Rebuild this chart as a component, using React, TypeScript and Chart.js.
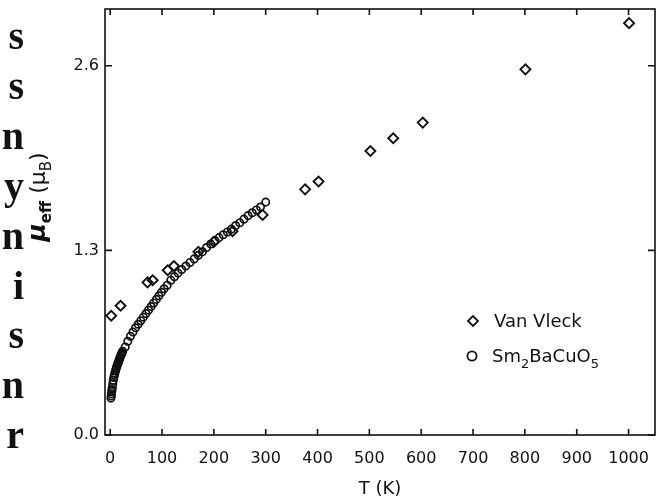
import React, { useEffect, useRef } from 'react';
import { Chart, registerables } from 'chart.js';

Chart.register(...registerables);

// ---- data ----
const vanVleckT = [2, 20, 72, 82, 111, 123, 170, 200, 236, 294, 376, 402, 502, 546, 603, 801, 1001];
const vanVleckMu = [0.84, 0.91, 1.075, 1.09, 1.16, 1.19, 1.29, 1.36, 1.435, 1.55, 1.73, 1.785, 2.0, 2.09, 2.2, 2.575, 2.9];

const smT = [
  1.5, 2, 2.5, 3, 3.5, 4, 5, 6, 7, 8, 9, 10, 11, 12, 13, 14, 15, 16, 17, 18, 19, 20, 21, 22, 23, 24,
  29, 34, 39, 44, 49, 54, 59, 64, 69, 74, 79, 84, 89, 94, 99, 104, 110,
  117, 124, 131, 138, 146, 154, 162, 170, 178, 186, 194, 202, 210, 218, 226, 234, 242, 250, 258, 266,
  274, 282, 290, 300,
];
const smMu = [
  0.26, 0.275, 0.29, 0.305, 0.32, 0.335, 0.36, 0.385, 0.405, 0.42, 0.435, 0.45, 0.46, 0.475, 0.485,
  0.495, 0.505, 0.515, 0.525, 0.535, 0.545, 0.555, 0.565, 0.57, 0.58, 0.59,
  0.62, 0.66, 0.695, 0.725, 0.755, 0.78, 0.805, 0.83, 0.855, 0.88, 0.905, 0.93, 0.955, 0.98, 1.005,
  1.03, 1.055,
  1.09, 1.115, 1.14, 1.165, 1.19, 1.215, 1.24, 1.265, 1.29, 1.32, 1.345, 1.37, 1.39, 1.41, 1.43, 1.45,
  1.475, 1.495, 1.52, 1.545, 1.565, 1.585, 1.605, 1.64,
];

const xTickValues = [0, 100, 200, 300, 400, 500, 600, 700, 800, 900, 1000];
const yTickValues = [0, 1.3, 2.6];
const xRange = [-10, 1051];
const yRange = [0, 3.0];

const legendVanVleck = 'Van Vleck';
const legendSmParts = ['Sm', '2', 'BaCuO', '5'];
const xTitle = 'T (K)';
const yTitleParts = ['\u03bc', 'eff', ' (\u03bc', 'B', ')'];

// fragments of the neighbouring column of the scanned page
const sideLetters = ['s', 's', 'n', 'y', 'n', 'i', 's', 'n', 'r'];

const INK = '#111';
const FONT = "'DejaVu Sans', sans-serif";

const decorPlugin = {
  id: 'decor',
  afterDraw(chart: any) {
    const { ctx, chartArea: a, scales } = chart;
    const x = scales.x;
    const y = scales.y;
    ctx.save();
    ctx.strokeStyle = INK;
    ctx.lineWidth = 1.6;
    ctx.strokeRect(a.left, a.top, a.right - a.left, a.bottom - a.top);
    ctx.beginPath();
    for (const v of xTickValues) {
      const px = x.getPixelForValue(v);
      ctx.moveTo(px, a.bottom);
      ctx.lineTo(px, a.bottom - 6);
      ctx.moveTo(px, a.top);
      ctx.lineTo(px, a.top + 6);
    }
    for (const v of yTickValues) {
      const py = y.getPixelForValue(v);
      ctx.moveTo(a.left, py);
      ctx.lineTo(a.left + 7, py);
      ctx.moveTo(a.right, py);
      ctx.lineTo(a.right - 7, py);
    }
    ctx.stroke();

    // x title
    ctx.fillStyle = INK;
    ctx.font = `18px ${FONT}`;
    ctx.textAlign = 'center';
    ctx.textBaseline = 'middle';
    ctx.fillText(xTitle, (a.left + a.right) / 2, 489);

    // y title (rotated)
    const fonts = [
      `italic bold 25px ${FONT}`,
      `bold 15px ${FONT}`,
      `22px ${FONT}`,
      `15px ${FONT}`,
      `22px ${FONT}`,
    ];
    const offs = [0, 6, 0, 6, 0];
    let total = 0;
    const widths: number[] = [];
    yTitleParts.forEach((t, i) => {
      ctx.font = fonts[i];
      const w = ctx.measureText(t).width;
      widths.push(w);
      total += w;
    });
    ctx.translate(45, 197);
    ctx.rotate(-Math.PI / 2);
    ctx.textAlign = 'left';
    ctx.textBaseline = 'alphabetic';
    let cx = -total / 2;
    yTitleParts.forEach((t, i) => {
      ctx.font = fonts[i];
      ctx.fillText(t, cx, offs[i]);
      cx += widths[i];
    });
    ctx.setTransform(1, 0, 0, 1, 0, 0);

    // legend
    ctx.lineWidth = 1.8;
    ctx.beginPath();
    const dx = 473, dy = 321, r = 5;
    ctx.moveTo(dx - r, dy);
    ctx.lineTo(dx, dy - r);
    ctx.lineTo(dx + r, dy);
    ctx.lineTo(dx, dy + r);
    ctx.closePath();
    ctx.stroke();
    ctx.beginPath();
    ctx.arc(472, 356, 4.6, 0, Math.PI * 2);
    ctx.stroke();
    ctx.font = `18px ${FONT}`;
    ctx.textAlign = 'left';
    ctx.textBaseline = 'alphabetic';
    ctx.fillText(legendVanVleck, 494, 327);
    let lx = 492;
    legendSmParts.forEach((t, i) => {
      const sub = i % 2 === 1;
      ctx.font = sub ? `13px ${FONT}` : `18px ${FONT}`;
      ctx.fillText(t, lx, sub ? 368 : 362);
      lx += ctx.measureText(t).width;
    });
    ctx.restore();
  },
};

export default function App() {
  const ref = useRef<HTMLCanvasElement | null>(null);

  useEffect(() => {
    if (!ref.current) return;
    const chart = new Chart(ref.current, {
      type: 'scatter',
      data: {
        datasets: [
          {
            label: 'Van Vleck',
            data: vanVleckT.map((t, i) => ({ x: t, y: vanVleckMu[i] })),
            pointStyle: 'rectRot',
            pointRadius: 5,
            borderColor: INK,
            borderWidth: 1.9,
            backgroundColor: 'rgba(0,0,0,0)',
          },
          {
            label: 'Sm2BaCuO5',
            data: smT.map((t, i) => ({ x: t, y: smMu[i] })),
            pointStyle: 'circle',
            pointRadius: 3.7,
            borderColor: INK,
            borderWidth: 1.7,
            backgroundColor: 'rgba(0,0,0,0)',
          },
        ],
      },
      options: {
        responsive: false,
        animation: false,
        layout: { padding: { left: 0, top: 9, right: 9, bottom: 0 } },
        plugins: { legend: { display: false }, tooltip: { enabled: false } },
        scales: {
          x: {
            type: 'linear',
            min: xRange[0],
            max: xRange[1],
            grid: { display: false, drawTicks: false },
            border: { display: false },
            ticks: {
              color: INK,
              font: { family: FONT, size: 16 },
              padding: 14,
              maxRotation: 0,
              callback: (v: any) => String(v),
            },
            afterBuildTicks: (s: any) => {
              s.ticks = xTickValues.map((v) => ({ value: v }));
            },
            afterFit: (s: any) => {
              s.height = 67;
              s.paddingLeft = 0;
              s.paddingRight = 0;
            },
          },
          y: {
            type: 'linear',
            min: yRange[0],
            max: yRange[1],
            grid: { display: false, drawTicks: false },
            border: { display: false },
            ticks: {
              color: INK,
              font: { family: FONT, size: 16 },
              padding: 6,
              callback: (v: any) => Number(v).toFixed(1),
            },
            afterBuildTicks: (s: any) => {
              s.ticks = yTickValues.map((v) => ({ value: v }));
            },
            afterFit: (s: any) => {
              s.width = 105;
              s.paddingTop = 0;
              s.paddingBottom = 0;
            },
          },
        },
      },
      plugins: [decorPlugin],
    } as any);
    return () => chart.destroy();
  }, []);

  return (
    <div style={{ position: 'fixed', left: 0, top: 0, width: 664, height: 502, background: '#fff', overflow: 'hidden' }}>
      <canvas ref={ref} width={664} height={502} style={{ position: 'absolute', left: 0, top: 0 }} />
      <div
        style={{
          position: 'absolute',
          left: 0,
          top: 11,
          width: 24,
          fontFamily: "'Liberation Serif', serif",
          fontWeight: 'bold',
          fontSize: 40,
          lineHeight: '49.9px',
          textAlign: 'right',
          color: '#111',
        }}
      >
        {sideLetters.map((c, i) => (
          <div key={i}>{c}</div>
        ))}
      </div>
    </div>
  );
}
